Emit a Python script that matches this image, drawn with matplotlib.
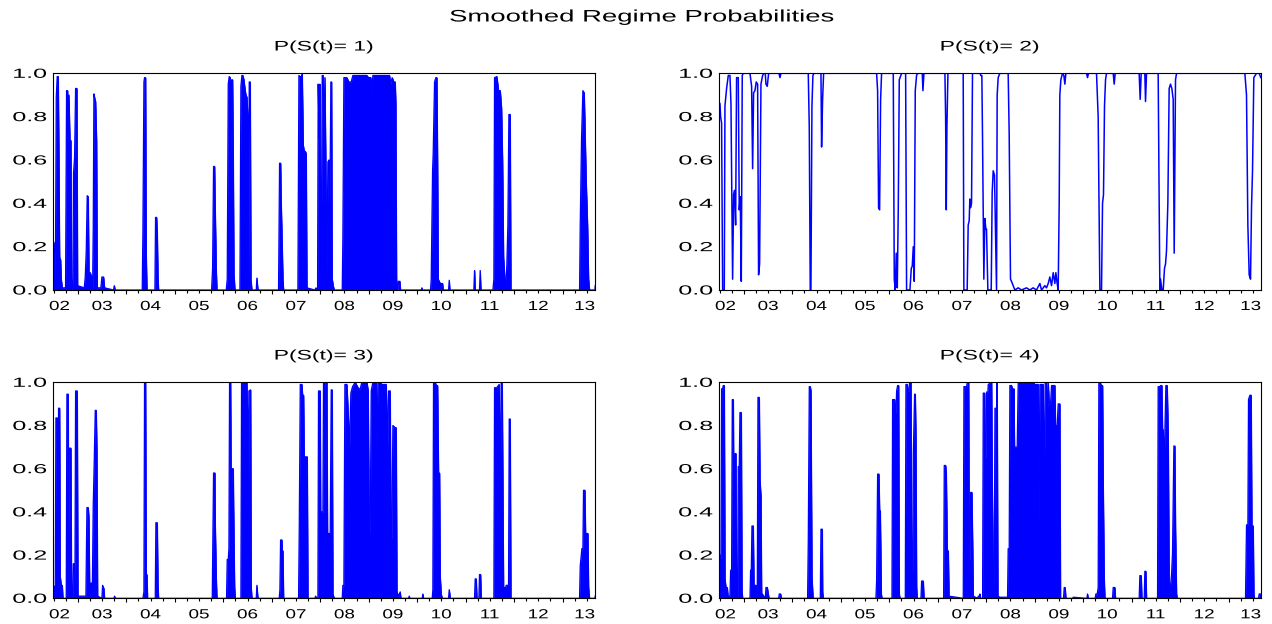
import matplotlib
matplotlib.use("Agg")
import matplotlib.pyplot as plt
import numpy as np
from matplotlib.patheffects import AbstractPathEffect
from matplotlib.ticker import MultipleLocator, NullFormatter
from matplotlib.transforms import Affine2D

plt.rcParams['font.family'] = ['Liberation Sans', 'DejaVu Sans']

# Smoothed probabilities, (decimal year, probability)
p1_pts = np.array([
    [2002.484, 0.15], [2002.505, 0.22], [2002.525, 0.05], [2002.539, 0.23], [2002.553, 0.89],
    [2002.573, 0.985], [2002.594, 0.985], [2002.608, 0.6], [2002.622, 0.15], [2002.642, 0.14],
    [2002.656, 0.05], [2002.677, 0.01], [2002.745, 0.01], [2002.766, 0.92], [2002.787, 0.92],
    [2002.800, 0.6], [2002.814, 0.9], [2002.835, 0.69], [2002.855, 0.69], [2002.869, 0.05],
    [2002.897, 0.02], [2002.910, 0.54], [2002.931, 0.61], [2002.952, 0.93], [2002.979, 0.93],
    [2002.993, 0.02], [2003.131, 0.01], [2003.151, 0.06], [2003.172, 0.18], [2003.192, 0.435],
    [2003.213, 0.43], [2003.227, 0.08], [2003.254, 0.08], [2003.282, 0.06], [2003.303, 0.01],
    [2003.316, 0.28], [2003.330, 0.905], [2003.351, 0.88], [2003.364, 0.87], [2003.385, 0.69],
    [2003.399, 0.01], [2003.474, 0.01], [2003.495, 0.06], [2003.529, 0.06], [2003.550, 0.01],
    [2003.736, 0.0], [2003.750, 0.02], [2003.770, 0.0], [2004.327, 0.0], [2004.341, 0.27],
    [2004.362, 0.96], [2004.375, 0.98], [2004.396, 0.98], [2004.410, 0.16], [2004.424, 0.0],
    [2004.589, 0.0], [2004.602, 0.335], [2004.623, 0.335], [2004.637, 0.27], [2004.651, 0.07],
    [2004.664, 0.0], [2005.758, 0.0], [2005.779, 0.1], [2005.799, 0.57], [2005.820, 0.57],
    [2005.834, 0.36], [2005.854, 0.1], [2005.868, 0.0], [2006.061, 0.0], [2006.081, 0.05],
    [2006.102, 0.95], [2006.122, 0.985], [2006.143, 0.98], [2006.157, 0.62], [2006.171, 0.97],
    [2006.191, 0.97], [2006.205, 0.62], [2006.219, 0.08], [2006.239, 0.0], [2006.343, 0.0],
    [2006.363, 0.94], [2006.384, 0.99], [2006.404, 0.99], [2006.425, 0.97], [2006.446, 0.93],
    [2006.466, 0.9], [2006.487, 0.89], [2006.508, 0.8], [2006.521, 0.05], [2006.535, 0.96],
    [2006.556, 0.96], [2006.570, 0.05], [2006.590, 0.0], [2006.680, 0.0], [2006.693, 0.055],
    [2006.714, 0.0], [2007.140, 0.0], [2007.161, 0.585], [2007.182, 0.585], [2007.195, 0.4],
    [2007.216, 0.2], [2007.230, 0.05], [2007.244, 0.0], [2007.539, 0.0], [2007.560, 0.99],
    [2007.588, 0.985], [2007.608, 0.985], [2007.629, 0.995], [2007.649, 0.67], [2007.670, 0.64],
    [2007.691, 0.64], [2007.711, 0.63], [2007.725, 0.01], [2007.890, 0.0], [2007.911, 0.01],
    [2007.931, 0.0], [2007.945, 0.0], [2007.958, 0.95], [2007.979, 0.7], [2007.993, 0.95],
    [2008.007, 0.23], [2008.020, 0.1], [2008.041, 0.99], [2008.062, 0.99], [2008.075, 0.7],
    [2008.096, 0.98], [2008.117, 0.55], [2008.137, 0.05], [2008.158, 0.59], [2008.179, 0.6],
    [2008.199, 0.4], [2008.220, 0.96], [2008.234, 0.96], [2008.247, 0.05], [2008.268, 0.02],
    [2008.289, 0.0], [2008.454, 0.0], [2008.467, 0.24], [2008.488, 0.98], [2008.550, 0.98],
    [2008.591, 0.96], [2008.639, 0.96], [2008.674, 0.99], [2008.963, 0.99], [2008.997, 0.98],
    [2009.045, 0.98], [2009.066, 0.92], [2009.086, 0.99], [2009.430, 0.99], [2009.451, 0.95],
    [2009.485, 0.98], [2009.520, 0.96], [2009.547, 0.96], [2009.561, 0.85], [2009.575, 0.05],
    [2009.595, 0.0], [2009.616, 0.04], [2009.644, 0.04], [2009.657, 0.0], [2010.084, 0.0],
    [2010.098, 0.01], [2010.111, 0.0], [2010.276, 0.0], [2010.290, 0.05], [2010.318, 0.55],
    [2010.331, 0.63], [2010.359, 0.96], [2010.386, 0.98], [2010.407, 0.98], [2010.421, 0.6],
    [2010.435, 0.05], [2010.476, 0.03], [2010.524, 0.03], [2010.538, 0.0], [2010.648, 0.0],
    [2010.662, 0.045], [2010.675, 0.0], [2011.170, 0.0], [2011.184, 0.09], [2011.198, 0.0],
    [2011.287, 0.0], [2011.301, 0.09], [2011.315, 0.0], [2011.563, 0.0], [2011.583, 0.05],
    [2011.597, 0.98], [2011.645, 0.985], [2011.679, 0.92], [2011.714, 0.92], [2011.741, 0.84],
    [2011.762, 0.6], [2011.783, 0.15], [2011.810, 0.05], [2011.838, 0.05], [2011.851, 0.12],
    [2011.872, 0.3], [2011.893, 0.81], [2011.920, 0.81], [2011.934, 0.0], [2013.351, 0.0],
    [2013.365, 0.3], [2013.392, 0.7], [2013.420, 0.92], [2013.447, 0.91], [2013.468, 0.7],
    [2013.488, 0.5], [2013.516, 0.3], [2013.537, 0.05], [2013.557, 0.0], [2013.667, 0.0],
    [2013.674, 0.02],
])

p2_pts = np.array([
    [2002.478, 0.87], [2002.506, 0.86], [2002.519, 0.8], [2002.540, 0.77], [2002.561, 0.0],
    [2002.595, 0.0], [2002.609, 0.85], [2002.643, 0.93], [2002.678, 0.99], [2002.712, 0.99],
    [2002.733, 0.86], [2002.767, 0.05], [2002.788, 0.44], [2002.808, 0.46], [2002.829, 0.3],
    [2002.849, 0.98], [2002.884, 0.98], [2002.904, 0.37], [2002.925, 0.43], [2002.946, 0.04],
    [2002.966, 0.99], [2002.987, 1.0], [2003.125, 1.0], [2003.159, 0.94], [2003.180, 0.56],
    [2003.200, 0.91], [2003.228, 0.92], [2003.255, 0.96], [2003.283, 0.95], [2003.303, 0.07],
    [2003.324, 0.12], [2003.352, 0.95], [2003.386, 0.99], [2003.413, 1.0], [2003.441, 1.0],
    [2003.455, 0.95], [2003.482, 0.94], [2003.510, 1.0], [2003.723, 1.0], [2003.744, 0.98],
    [2003.764, 1.0], [2004.328, 1.0], [2004.349, 0.75], [2004.369, 0.0], [2004.383, 0.0],
    [2004.404, 0.85], [2004.424, 0.99], [2004.445, 1.0], [2004.590, 1.0], [2004.603, 0.66],
    [2004.624, 0.88], [2004.645, 1.0], [2005.738, 1.0], [2005.759, 0.92], [2005.779, 0.38],
    [2005.800, 0.37], [2005.821, 0.88], [2005.841, 1.0], [2006.082, 1.0], [2006.103, 0.05],
    [2006.123, 0.0], [2006.144, 0.17], [2006.165, 0.01], [2006.185, 0.37], [2006.206, 0.97],
    [2006.254, 1.0], [2006.337, 1.0], [2006.357, 0.0], [2006.426, 0.0], [2006.454, 0.1],
    [2006.474, 0.11], [2006.495, 0.2], [2006.515, 0.04], [2006.536, 0.92], [2006.563, 0.99],
    [2006.584, 1.0], [2006.681, 1.0], [2006.694, 0.92], [2006.715, 1.0], [2007.148, 1.0],
    [2007.162, 0.8], [2007.176, 0.37], [2007.189, 0.75], [2007.210, 1.0], [2007.525, 1.0],
    [2007.539, 0.0], [2007.607, 0.0], [2007.628, 0.3], [2007.649, 0.32], [2007.662, 0.42],
    [2007.676, 0.38], [2007.697, 0.4], [2007.717, 1.0], [2007.869, 1.0], [2007.889, 0.99],
    [2007.910, 0.99], [2007.924, 0.7], [2007.951, 0.05], [2007.972, 0.33], [2007.993, 0.28],
    [2008.006, 0.28], [2008.034, 0.0], [2008.103, 0.0], [2008.123, 0.45], [2008.144, 0.55],
    [2008.171, 0.53], [2008.185, 0.35], [2008.213, 0.0], [2008.226, 0.9], [2008.247, 0.98],
    [2008.281, 1.0], [2008.453, 1.0], [2008.474, 0.72], [2008.501, 0.05], [2008.522, 0.04],
    [2008.556, 0.02], [2008.591, 0.0], [2008.660, 0.01], [2008.728, 0.0], [2008.832, 0.01],
    [2008.900, 0.0], [2008.969, 0.01], [2009.038, 0.0], [2009.107, 0.03], [2009.141, 0.0],
    [2009.210, 0.02], [2009.244, 0.01], [2009.279, 0.03], [2009.313, 0.06], [2009.348, 0.02],
    [2009.382, 0.08], [2009.416, 0.03], [2009.437, 0.08], [2009.464, 0.03], [2009.485, 0.0],
    [2009.506, 0.4], [2009.519, 0.9], [2009.540, 0.97], [2009.574, 1.0], [2009.602, 0.99],
    [2009.623, 0.95], [2009.643, 1.0], [2010.070, 1.0], [2010.090, 0.98], [2010.111, 1.0],
    [2010.276, 1.0], [2010.310, 0.8], [2010.331, 0.3], [2010.345, 0.0], [2010.379, 0.0],
    [2010.400, 0.4], [2010.420, 0.44], [2010.441, 0.85], [2010.462, 0.97], [2010.482, 1.0],
    [2010.620, 1.0], [2010.641, 0.95], [2010.661, 1.0], [2011.156, 1.0], [2011.177, 0.88],
    [2011.198, 1.0], [2011.273, 1.0], [2011.287, 0.87], [2011.308, 1.0], [2011.548, 1.0],
    [2011.583, 0.0], [2011.597, 0.05], [2011.624, 0.0], [2011.652, 0.0], [2011.679, 0.1],
    [2011.700, 0.12], [2011.720, 0.18], [2011.748, 0.4], [2011.775, 0.93], [2011.803, 0.95],
    [2011.830, 0.93], [2011.858, 0.88], [2011.879, 0.17], [2011.906, 0.97], [2011.927, 1.0],
    [2013.337, 1.0], [2013.371, 0.9], [2013.399, 0.3], [2013.426, 0.07], [2013.454, 0.05],
    [2013.474, 0.38], [2013.495, 0.55], [2013.522, 0.98], [2013.577, 1.0], [2013.632, 1.0],
    [2013.667, 0.98],
])

p3_pts = np.array([
    [2002.484, 0.02], [2002.498, 0.055], [2002.518, 0.055], [2002.532, 0.01], [2002.546, 0.835],
    [2002.573, 0.835], [2002.587, 0.5], [2002.601, 0.88], [2002.622, 0.88], [2002.635, 0.1],
    [2002.656, 0.06], [2002.677, 0.06], [2002.690, 0.0], [2002.759, 0.0], [2002.773, 0.945],
    [2002.800, 0.945], [2002.807, 0.3], [2002.821, 0.695], [2002.855, 0.695], [2002.869, 0.01],
    [2002.890, 0.01], [2002.904, 0.16], [2002.924, 0.16], [2002.938, 0.01], [2002.952, 0.96],
    [2002.986, 0.96], [2003.000, 0.01], [2003.165, 0.01], [2003.186, 0.42], [2003.213, 0.42],
    [2003.227, 0.37], [2003.241, 0.07], [2003.282, 0.07], [2003.296, 0.01], [2003.316, 0.43],
    [2003.337, 0.635], [2003.358, 0.87], [2003.378, 0.87], [2003.392, 0.67], [2003.406, 0.01],
    [2003.495, 0.0], [2003.509, 0.06], [2003.536, 0.045], [2003.550, 0.0], [2003.743, 0.0],
    [2003.756, 0.01], [2003.770, 0.0], [2004.341, 0.0], [2004.362, 0.03], [2004.375, 1.0],
    [2004.396, 1.0], [2004.410, 0.11], [2004.424, 0.11], [2004.437, 0.0], [2004.596, 0.0],
    [2004.609, 0.35], [2004.637, 0.35], [2004.651, 0.07], [2004.664, 0.0], [2005.772, 0.0],
    [2005.785, 0.3], [2005.799, 0.58], [2005.827, 0.58], [2005.834, 0.34], [2005.854, 0.1],
    [2005.868, 0.0], [2006.067, 0.0], [2006.081, 0.18], [2006.102, 0.18], [2006.116, 0.23],
    [2006.129, 1.0], [2006.150, 1.0], [2006.164, 0.47], [2006.178, 0.6], [2006.205, 0.6],
    [2006.212, 0.43], [2006.233, 0.05], [2006.246, 0.0], [2006.363, 0.0], [2006.377, 1.0],
    [2006.487, 1.0], [2006.501, 0.86], [2006.515, 0.24], [2006.528, 0.96], [2006.563, 0.965],
    [2006.576, 0.05], [2006.590, 0.0], [2006.680, 0.0], [2006.693, 0.06], [2006.714, 0.0],
    [2007.154, 0.0], [2007.168, 0.04], [2007.182, 0.27], [2007.209, 0.27], [2007.216, 0.22],
    [2007.230, 0.22], [2007.244, 0.0], [2007.553, 0.0], [2007.567, 0.32], [2007.588, 0.99],
    [2007.622, 0.99], [2007.636, 0.94], [2007.656, 0.94], [2007.670, 0.655], [2007.691, 0.655],
    [2007.697, 0.555], [2007.711, 0.655], [2007.732, 0.655], [2007.746, 0.0], [2007.890, 0.0],
    [2007.904, 0.01], [2007.931, 0.0], [2007.952, 0.0], [2007.965, 0.96], [2008.000, 0.96],
    [2008.013, 0.1], [2008.027, 0.4], [2008.055, 0.4], [2008.068, 1.0], [2008.089, 1.0],
    [2008.103, 0.13], [2008.117, 1.0], [2008.137, 1.0], [2008.151, 0.3], [2008.206, 0.3],
    [2008.227, 0.965], [2008.247, 0.965], [2008.261, 0.02], [2008.289, 0.0], [2008.454, 0.0],
    [2008.467, 0.06], [2008.488, 0.06], [2008.509, 0.99], [2008.550, 0.99], [2008.584, 0.82],
    [2008.605, 0.7], [2008.632, 0.95], [2008.667, 0.98], [2008.722, 1.0], [2008.791, 0.97],
    [2008.825, 0.97], [2008.859, 1.0], [2008.963, 1.0], [2008.990, 0.96], [2009.011, 0.3],
    [2009.031, 0.3], [2009.052, 0.96], [2009.086, 1.0], [2009.155, 1.0], [2009.169, 0.7],
    [2009.190, 1.0], [2009.238, 1.0], [2009.272, 0.99], [2009.362, 0.99], [2009.389, 0.7],
    [2009.410, 0.96], [2009.444, 0.96], [2009.458, 0.28], [2009.478, 0.28], [2009.499, 0.8],
    [2009.547, 0.79], [2009.568, 0.79], [2009.582, 0.03], [2009.616, 0.01], [2009.650, 0.03],
    [2009.664, 0.0], [2009.822, 0.0], [2009.836, 0.01], [2009.850, 0.0], [2010.104, 0.0],
    [2010.118, 0.02], [2010.132, 0.0], [2010.311, 0.0], [2010.324, 0.04], [2010.338, 1.0],
    [2010.373, 1.0], [2010.393, 0.985], [2010.421, 0.985], [2010.441, 0.58], [2010.462, 0.58],
    [2010.476, 0.1], [2010.496, 0.02], [2010.517, 0.0], [2010.648, 0.0], [2010.662, 0.04],
    [2010.682, 0.0], [2011.184, 0.0], [2011.198, 0.09], [2011.219, 0.09], [2011.232, 0.0],
    [2011.274, 0.0], [2011.287, 0.11], [2011.308, 0.11], [2011.322, 0.0], [2011.583, 0.0],
    [2011.597, 0.975], [2011.645, 0.975], [2011.659, 0.98], [2011.693, 0.99], [2011.714, 0.5],
    [2011.734, 1.0], [2011.755, 1.0], [2011.769, 0.5], [2011.783, 0.05], [2011.824, 0.05],
    [2011.838, 0.06], [2011.886, 0.06], [2011.900, 0.83], [2011.920, 0.83], [2011.934, 0.0],
    [2013.351, 0.0], [2013.365, 0.15], [2013.399, 0.23], [2013.420, 0.23], [2013.433, 0.5],
    [2013.461, 0.5], [2013.475, 0.3], [2013.523, 0.3], [2013.537, 0.05], [2013.557, 0.0],
    [2013.667, 0.0], [2013.674, 0.01],
])

p4_pts = np.array([
    [2002.478, 0.2], [2002.506, 0.2], [2002.526, 0.17], [2002.540, 0.97], [2002.561, 0.97],
    [2002.574, 0.985], [2002.595, 0.985], [2002.609, 0.09], [2002.629, 0.05], [2002.657, 0.05],
    [2002.671, 0.01], [2002.712, 0.01], [2002.726, 0.13], [2002.746, 0.13], [2002.760, 0.92],
    [2002.781, 0.92], [2002.794, 0.36], [2002.815, 0.67], [2002.836, 0.67], [2002.849, 0.01],
    [2002.870, 0.01], [2002.884, 0.61], [2002.904, 0.61], [2002.918, 0.86], [2002.946, 0.86],
    [2002.960, 0.04], [2002.973, 0.0], [2003.125, 0.0], [2003.138, 0.13], [2003.152, 0.13],
    [2003.166, 0.335], [2003.193, 0.335], [2003.207, 0.06], [2003.248, 0.06], [2003.262, 0.02],
    [2003.276, 0.02], [2003.290, 0.93], [2003.317, 0.93], [2003.331, 0.55], [2003.352, 0.47],
    [2003.365, 0.02], [2003.379, 0.02], [2003.441, 0.0], [2003.455, 0.05], [2003.482, 0.05],
    [2003.503, 0.02], [2003.517, 0.0], [2003.716, 0.0], [2003.730, 0.02], [2003.757, 0.02],
    [2003.771, 0.0], [2004.314, 0.0], [2004.328, 0.26], [2004.349, 0.98], [2004.369, 0.98],
    [2004.383, 0.96], [2004.404, 0.1], [2004.424, 0.01], [2004.438, 0.0], [2004.576, 0.0],
    [2004.590, 0.32], [2004.617, 0.32], [2004.624, 0.03], [2004.638, 0.0], [2005.724, 0.0],
    [2005.738, 0.08], [2005.759, 0.575], [2005.786, 0.575], [2005.800, 0.405], [2005.814, 0.405],
    [2005.835, 0.02], [2005.848, 0.0], [2006.055, 0.0], [2006.068, 0.92], [2006.110, 0.92],
    [2006.123, 0.86], [2006.137, 0.86], [2006.151, 0.96], [2006.172, 0.985], [2006.192, 0.985],
    [2006.206, 0.02], [2006.220, 0.0], [2006.330, 0.0], [2006.343, 0.99], [2006.371, 0.99],
    [2006.385, 0.96], [2006.405, 0.96], [2006.419, 1.0], [2006.447, 1.0], [2006.460, 0.125],
    [2006.481, 0.125], [2006.495, 0.66], [2006.522, 0.945], [2006.536, 0.945], [2006.550, 0.74],
    [2006.563, 0.05], [2006.577, 0.0], [2006.653, 0.0], [2006.667, 0.08], [2006.701, 0.08],
    [2006.715, 0.0], [2007.121, 0.0], [2007.134, 0.615], [2007.162, 0.615], [2007.176, 0.58],
    [2007.196, 0.22], [2007.217, 0.22], [2007.231, 0.01], [2007.526, 0.0], [2007.540, 0.98],
    [2007.595, 0.98], [2007.609, 1.0], [2007.637, 1.0], [2007.650, 0.18], [2007.664, 0.18],
    [2007.678, 0.49], [2007.705, 0.49], [2007.719, 0.26], [2007.733, 0.01], [2007.822, 0.0],
    [2007.836, 0.01], [2007.857, 0.01], [2007.870, 0.02], [2007.884, 0.0], [2007.925, 0.0],
    [2007.939, 0.95], [2007.967, 0.95], [2007.974, 0.655], [2007.994, 0.655], [2008.008, 0.955],
    [2008.035, 0.955], [2008.042, 0.99], [2008.111, 1.0], [2008.125, 0.52], [2008.146, 0.07],
    [2008.166, 0.07], [2008.180, 0.88], [2008.214, 0.88], [2008.221, 1.0], [2008.226, 1.0],
    [2008.240, 0.01], [2008.281, 0.005], [2008.440, 0.005], [2008.453, 0.23], [2008.474, 0.23],
    [2008.488, 0.985], [2008.522, 0.985], [2008.543, 0.97], [2008.556, 0.5], [2008.570, 0.97],
    [2008.584, 0.7], [2008.639, 0.7], [2008.660, 1.0], [2008.969, 1.0], [2009.004, 0.99],
    [2009.072, 0.99], [2009.086, 0.35], [2009.107, 0.99], [2009.176, 0.99], [2009.196, 0.5],
    [2009.217, 1.0], [2009.244, 1.0], [2009.258, 0.82], [2009.279, 1.0], [2009.299, 0.9],
    [2009.327, 0.9], [2009.348, 0.985], [2009.416, 0.985], [2009.430, 0.8], [2009.464, 0.8],
    [2009.485, 0.9], [2009.519, 0.9], [2009.533, 0.0], [2009.595, 0.0], [2009.609, 0.05],
    [2009.629, 0.05], [2009.643, 0.0], [2009.781, 0.0], [2009.795, 0.005], [2010.077, 0.0],
    [2010.090, 0.02], [2010.104, 0.0], [2010.249, 0.0], [2010.262, 0.02], [2010.290, 0.02],
    [2010.310, 0.05], [2010.324, 1.0], [2010.352, 1.0], [2010.372, 0.985], [2010.400, 0.985],
    [2010.414, 0.53], [2010.434, 0.1], [2010.448, 0.0], [2010.606, 0.0], [2010.620, 0.05],
    [2010.654, 0.05], [2010.668, 0.0], [2011.156, 0.0], [2011.170, 0.105], [2011.198, 0.105],
    [2011.211, 0.0], [2011.260, 0.0], [2011.273, 0.125], [2011.294, 0.125], [2011.308, 0.0],
    [2011.535, 0.0], [2011.548, 0.98], [2011.583, 0.98], [2011.597, 0.985], [2011.624, 0.985],
    [2011.638, 0.78], [2011.652, 0.78], [2011.672, 0.62], [2011.707, 0.985], [2011.734, 0.985],
    [2011.755, 0.76], [2011.775, 0.06], [2011.803, 0.06], [2011.824, 0.11], [2011.844, 0.21],
    [2011.872, 0.705], [2011.892, 0.705], [2011.906, 0.32], [2011.927, 0.02], [2011.941, 0.0],
    [2013.350, 0.0], [2013.371, 0.34], [2013.399, 0.34], [2013.412, 0.92], [2013.440, 0.94],
    [2013.467, 0.94], [2013.481, 0.335], [2013.509, 0.335], [2013.522, 0.02], [2013.536, 0.0],
    [2013.619, 0.0], [2013.632, 0.02], [2013.660, 0.02],
])

panel_titles = ["P(S(t)= 1)", "P(S(t)= 2)", "P(S(t)= 3)", "P(S(t)= 4)"]
year_labels = ["02", "03", "04", "05", "06", "07", "08", "09", "10", "11", "12", "13"]
year_label_pos = [2002.62, 2003.5, 2004.5, 2005.5, 2006.5, 2007.5, 2008.5,
                  2009.5, 2010.5, 2011.5, 2012.5, 2013.46]
y_ticks = [0.0, 0.2, 0.4, 0.6, 0.8, 1.0]
y_labels = ["0.0", "0.2", "0.4", "0.6", "0.8", "1.0"]

BLUE = "#0000ff"


class Widen(AbstractPathEffect):
    # the EViews picture is stretched sideways, so widen glyphs about an anchor
    def __init__(self, sx, anchor="center"):
        super().__init__()
        self.sx = sx
        self.anchor = anchor

    def draw_path(self, renderer, gc, tpath, affine, rgbFace=None):
        ext = tpath.get_extents()
        if self.anchor == "right":
            px = ext.x1
        elif self.anchor == "left":
            px = ext.x0
        else:
            px = (ext.x0 + ext.x1) / 2
        pre = Affine2D().translate(-px, 0).scale(self.sx, 1).translate(px, 0)
        renderer.draw_path(gc, tpath, pre + affine, rgbFace)


W, H = 1272, 624
fig = plt.figure(figsize=(W / 100, H / 100), dpi=100)

# panel boxes in pixels: left, top, right, bottom
boxes = [(52.7, 73.3, 595.0, 290.0), (718.7, 73.3, 1261.0, 290.0),
         (52.7, 382.3, 595.0, 598.3), (718.7, 382.3, 1261.0, 598.3)]
series = [p1_pts, p2_pts, p3_pts, p4_pts]

for i, (box, pts, name) in enumerate(zip(boxes, series, panel_titles)):
    x0, y0, x1, y1 = box
    ax = fig.add_axes([x0 / W, 1 - y1 / H, (x1 - x0) / W, (y1 - y0) / H])
    t, v = pts[:, 0], pts[:, 1]
    if i == 1:
        ax.plot(t, v, color=BLUE, lw=1.1)
    else:
        # the daily spikes are too dense to tell apart, EViews shows them as solid blocks
        ax.fill_between(t, v, 0, facecolor=BLUE, edgecolor=BLUE, lw=0.4)
        ax.plot(t, v, color=BLUE, lw=0.9)

    ax.set_xlim(2002.48, 2013.67)
    ax.set_ylim(0, 1)

    ax.xaxis.set_major_locator(MultipleLocator(1))
    ax.xaxis.set_minor_locator(MultipleLocator(0.25))
    ax.xaxis.set_major_formatter(NullFormatter())
    ax.tick_params(axis="x", which="major", length=3.2, width=0.8, direction="out")
    ax.tick_params(axis="x", which="minor", length=1.8, width=0.8, direction="out")

    ax.set_yticks(y_ticks)
    ax.set_yticklabels(y_labels)
    ax.tick_params(axis="y", length=0, pad=4.3, labelsize=9.5)
    for lab in ax.get_yticklabels():
        lab.set_path_effects([Widen(1.9, "right")])

    for s in ax.spines.values():
        s.set_linewidth(0.8)
        s.set_color("black")

    for pos, lab in zip(year_label_pos, year_labels):
        ax.annotate(lab, xy=(pos, 0), xycoords=ax.get_xaxis_transform(),
                    xytext=(0, -14.4), textcoords="offset points",
                    ha="center", va="baseline", fontsize=9.5,
                    annotation_clip=False, path_effects=[Widen(1.43)])

    ax.annotate(name, xy=(0.5, 1), xycoords="axes fraction",
                xytext=(0, 16.4), textcoords="offset points",
                ha="center", va="baseline", fontsize=10,
                path_effects=[Widen(1.65)])

fig.text(642 / W, 1 - 21.5 / H, "Smoothed Regime Probabilities",
         ha="center", va="baseline", fontsize=12, path_effects=[Widen(1.65)])

fig.savefig("out.png", dpi=100)
